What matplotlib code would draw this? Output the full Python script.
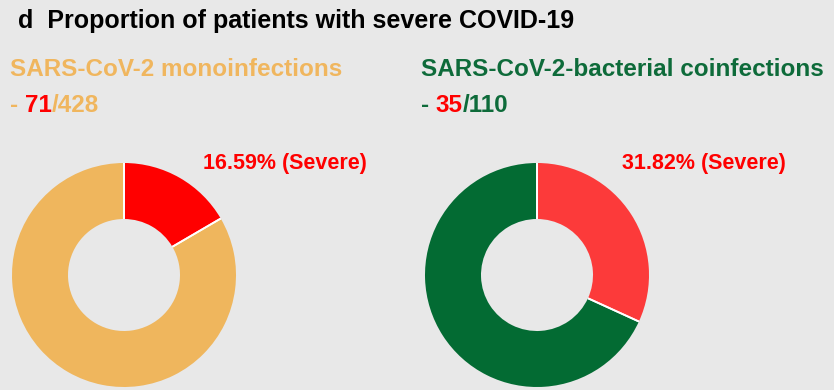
import matplotlib
matplotlib.use("Agg")
import matplotlib.pyplot as plt
import numpy as np

# Data
groups = ["SARS-CoV-2 monoinfections", "SARS-CoV-2-bacterial coinfections"]
severe = [71, 35]
totals = [428, 110]
pct_labels = ["16.59% (Severe)", "31.82% (Severe)"]
title = "d  Proportion of patients with severe COVID-19"

main_colors = ["#EFB65D", "#036B33"]
severe_colors = ["#FF0000", "#FC3A3A"]
label_colors = ["#F0B65E", "#0E6B3A"]
frac_red = "#FF0000"

W, H = 834, 390
plt.rcParams["font.family"] = ["Liberation Sans", "DejaVu Sans"]
fig = plt.figure(figsize=(W / 100, H / 100), dpi=100, facecolor="#E8E8E8")
ax = fig.add_axes([0, 0, 1, 1])

# pie geometry (pixel coords, y upward)
centers = [(124, H - 275), (537, H - 275)]
radius = 112
width = 56

for i in range(2):
    wedges, _ = ax.pie([severe[i], totals[i] - severe[i]],
                       colors=[severe_colors[i], main_colors[i]],
                       startangle=90, counterclock=False,
                       center=centers[i], radius=radius,
                       wedgeprops=dict(width=width, edgecolor="none", linewidth=0),
                       frame=True)
    cx, cy = centers[i]
    for w in wedges:
        for ang in (w.theta1, w.theta2):
            a = np.deg2rad(ang)
            ax.plot([cx + (radius - width) * np.cos(a), cx + radius * np.cos(a)],
                    [cy + (radius - width) * np.sin(a), cy + radius * np.sin(a)],
                    color="white", lw=1.3, solid_capstyle="butt")

ax.set_xlim(0, W)
ax.set_ylim(0, H)
ax.set_aspect("equal")
ax.axis("off")

ax.text(18, H - 21, title, fontsize=18, fontweight="bold", color="black",
        va="center", ha="left")

label_x = [10, 421]
for i in range(2):
    ax.text(label_x[i], H - 69, groups[i], fontsize=17.5, fontweight="bold",
            color=label_colors[i], va="center", ha="left")
    t1 = ax.text(label_x[i], H - 106, "- ", fontsize=17.5, fontweight="bold",
                 color=label_colors[i], va="center", ha="left")
    t2 = ax.annotate(str(severe[i]), xy=(1, 0), xycoords=t1, fontsize=17.5,
                     fontweight="bold", color=frac_red, va="bottom", ha="left")
    ax.annotate("/" + str(totals[i]), xy=(1, 0), xycoords=t2, fontsize=17.5,
                fontweight="bold", color=label_colors[i], va="bottom", ha="left")

pct_x = [203, 622]
for i in range(2):
    ax.text(pct_x[i], H - 164, pct_labels[i], fontsize=15.5, fontweight="bold",
            color=frac_red, va="center", ha="left")

fig.savefig("out.png", dpi=100, facecolor=fig.get_facecolor())
